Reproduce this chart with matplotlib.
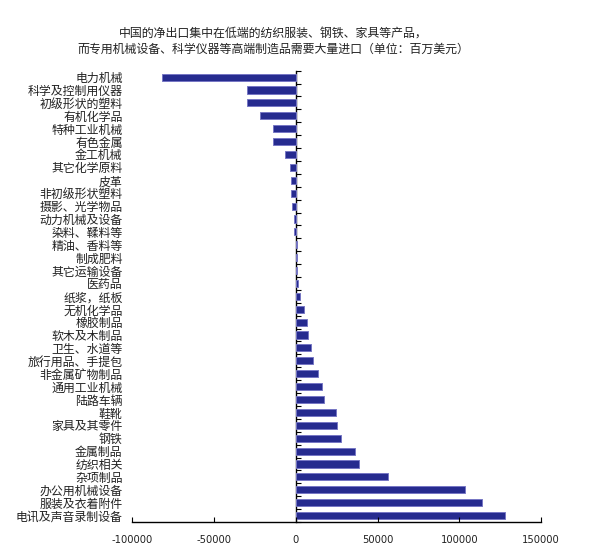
import numpy as np
import matplotlib
matplotlib.use('Agg')
import matplotlib.pyplot as plt

plt.rcParams['font.family'] = ['Noto Sans CJK SC', 'DejaVu Sans']
plt.rcParams['axes.unicode_minus'] = False

# categories, top to bottom
categories = ['电力机械', '科学及控制用仪器', '初级形状的塑料', '有机化学品', '特种工业机械',
              '有色金属', '金工机械', '其它化学原料', '皮革', '非初级形状塑料',
              '摄影、光学物品', '动力机械及设备', '染料、鞣料等', '精油、香料等', '制成肥料',
              '其它运输设备', '医药品', '纸浆，纸板', '无机化学品', '橡胶制品',
              '软木及木制品', '卫生、水道等', '旅行用品、手提包', '非金属矿物制品', '通用工业机械',
              '陆路车辆', '鞋靴', '家具及其零件', '钢铁', '金属制品',
              '纺织相关', '杂项制品', '办公用机械设备', '服装及衣着附件', '电讯及声音录制设备']
# net exports (million USD)
values = [-82000, -29700, -29800, -22000, -13900,
          -14100, -6900, -3700, -3000, -3000,
          -2300, -900, -900, 900, 700,
          700, 1600, 2500, 5000, 6700,
          7400, 9400, 10800, 13500, 16300,
          17500, 24400, 25300, 27400, 36300,
          38900, 56200, 103300, 113600, 128000]
xticks = [-100000, -50000, 0, 50000, 100000, 150000]
title = '中国的净出口集中在低端的纺织服装、钢铁、家具等产品，\n而专用机械设备、科学仪器等高端制造品需要大量进口（单位：百万美元）'

txt = '#222222'
fig = plt.figure(figsize=(5.91, 5.52), dpi=100)
ax = fig.add_axes([0.224, 0.0543, 0.6914, 0.8177])

y = np.arange(len(categories))
ax.barh(y, values, height=0.55, color='#262b8f', edgecolor='#7777c4', linewidth=0.7)

ax.set_xlim(xticks[0], xticks[-1])
ax.set_ylim(len(categories) - 0.5, -0.5)

ax.set_yticks(y)
ax.set_yticklabels(categories, fontsize=8.6, color=txt)
ax.tick_params(axis='y', length=0, pad=7)

ax.set_xticks(xticks)
ax.set_xticklabels([str(v) for v in xticks], fontsize=7.2, color=txt, family='DejaVu Sans')
ax.tick_params(axis='x', direction='in', length=3.5, width=0.8, pad=9)

for s in ['top', 'right', 'left']:
    ax.spines[s].set_visible(False)
ax.spines['bottom'].set_linewidth(1.0)

# zero line with ticks between categories
sec = ax.secondary_yaxis(0, transform=ax.transData)
sec.set_yticks(np.arange(len(categories) + 1) - 0.5)
sec.set_yticklabels([])
sec.tick_params(direction='in', length=3.5, width=0.8)
sec.spines['left'].set_linewidth(1.0)

fig.text(273 / 591, 1 - 41.3 / 552, title, ha='center', va='center',
         fontsize=8.6, color=txt, linespacing=1.35)

plt.savefig('out.png', dpi=100)
